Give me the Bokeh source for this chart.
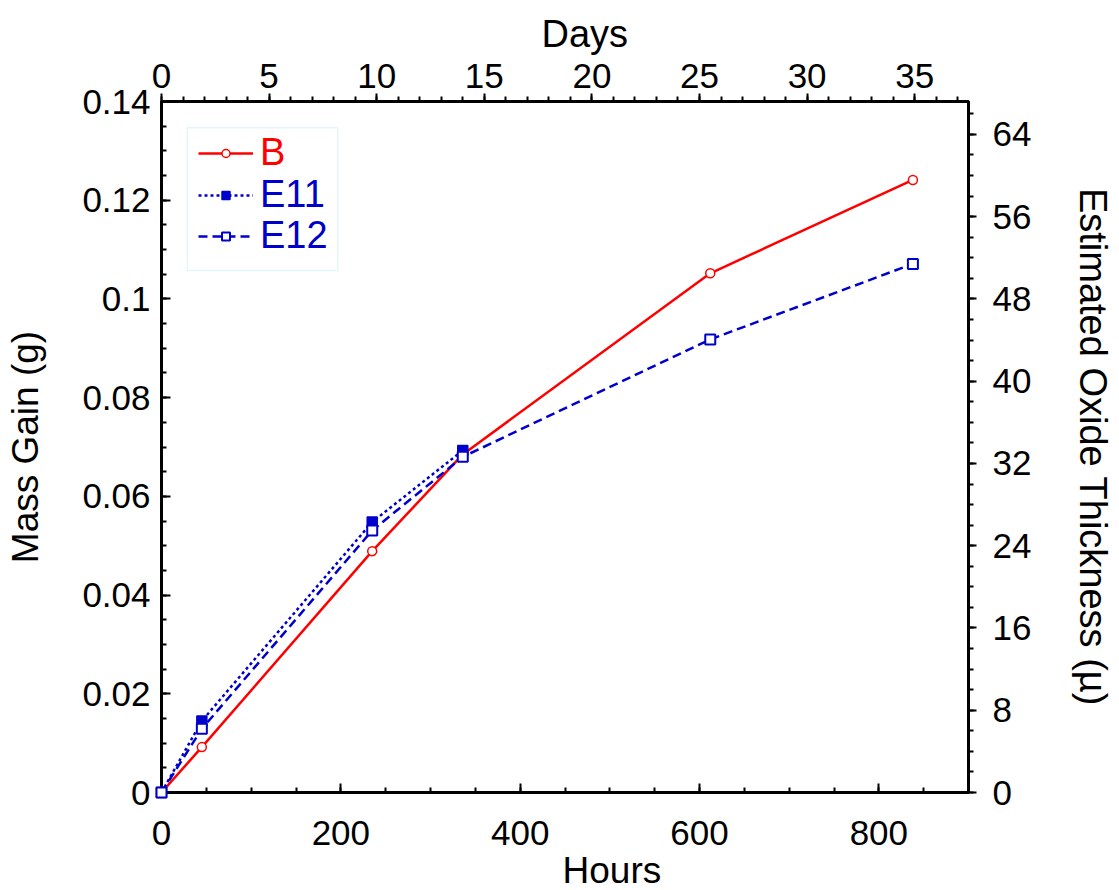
from bokeh.plotting import figure
from bokeh.models import (Range1d, LinearAxis, SingleIntervalTicker, CustomJSTickFormatter,
                          Legend, LegendItem, BoxAnnotation, Title)
from bokeh.embed import file_html
from bokeh.resources import INLINE

# ---- data ----
b_hours = [0, 45, 235, 336, 612, 838]
b_mass = [0, 0.0092, 0.0489, 0.0685, 0.1052, 0.1241]

e11_hours = [0, 45, 235, 336]
e11_mass = [0, 0.0145, 0.0548, 0.0693]

e12_hours = [0, 45, 235, 336, 612, 838]
e12_mass = [0, 0.0129, 0.0531, 0.0680, 0.0918, 0.1071]

series_names = ["B", "E11", "E12"]

hours_range = (0, 900)
days_range = (0, 37.5)
mass_range = (0, 0.14)
thick_range = (0, 67.2)

FONT = "Liberation Sans"
RED = "#ff0000"
BLUE = "#0000cc"

p = figure(width=1119, height=890,
           x_range=Range1d(*hours_range), y_range=Range1d(*mass_range),
           output_backend="svg", toolbar_location=None,
           x_axis_location=None, y_axis_location=None,
           min_border_left=161, min_border_right=151,
           min_border_top=101, min_border_bottom=97)
p.grid.visible = False
p.outline_line_color = "black"
p.outline_line_width = 3
p.background_fill_color = "white"
p.border_fill_color = "white"

p.extra_x_ranges = {"days": Range1d(*days_range)}
p.extra_y_ranges = {"thick": Range1d(*thick_range)}


def style_axis(ax, tick_in, tick_out, label_size="35px", title_size="37px"):
    ax.axis_line_width = 3
    ax.axis_line_color = "black"
    ax.major_tick_in = tick_in[0]
    ax.minor_tick_in = tick_in[1]
    ax.major_tick_out = tick_out[0]
    ax.minor_tick_out = tick_out[1]
    ax.major_tick_line_width = 2
    ax.minor_tick_line_width = 2
    ax.major_tick_line_color = "black"
    ax.minor_tick_line_color = "black"
    ax.major_label_text_font = FONT
    ax.major_label_text_font_size = label_size
    ax.major_label_text_color = "black"
    ax.axis_label_text_font = FONT
    ax.axis_label_text_font_size = title_size
    ax.axis_label_text_font_style = "normal"
    ax.axis_label_text_color = "black"


bottom = LinearAxis(ticker=SingleIntervalTicker(interval=200, num_minor_ticks=4))
style_axis(bottom, (9, 5), (0, 0))
bottom.major_label_standoff = 28
p.add_layout(bottom, "below")

top = LinearAxis(x_range_name="days",
                 ticker=SingleIntervalTicker(interval=5, num_minor_ticks=5))
style_axis(top, (0, 0), (8, 5))
top.major_label_standoff = 6
p.add_layout(top, "above")

left = LinearAxis(ticker=SingleIntervalTicker(interval=0.02, num_minor_ticks=4),
                  formatter=CustomJSTickFormatter(
                      code="return tick.toFixed(3).replace(/0+$/, '').replace(/\\.$/, '');"),
                  axis_label="Mass Gain (g)")
style_axis(left, (9, 5), (0, 0), title_size="37px")
left.major_label_standoff = 11
left.axis_label_standoff = 33
p.add_layout(left, "left")

right = LinearAxis(y_range_name="thick",
                   ticker=SingleIntervalTicker(interval=8, num_minor_ticks=4),
                   axis_label="Estimated Oxide Thickness (µ)")
style_axis(right, (0, 0), (8, 5), title_size="38px")
right.major_label_standoff = 16
right.axis_label_standoff = 38
p.add_layout(right, "right")

# titles of the horizontal axes, set off-centre as in the original
p.add_layout(Title(text="Days", align="left", offset=380, standoff=12,
                   text_font=FONT, text_font_size="38px", text_font_style="normal",
                   text_color="black"), "above")
p.add_layout(Title(text="Hours", align="left", offset=401, standoff=0,
                   text_font=FONT, text_font_size="37px", text_font_style="normal",
                   text_color="black"), "below")

# ---- series ----
b_line = p.line(b_hours, b_mass, line_color=RED, line_width=2.5)
b_pts = p.scatter(b_hours, b_mass, marker="circle", size=9, fill_color="white",
                  line_color=RED, line_width=1.5, level="overlay")

e11_line = p.line(e11_hours, e11_mass, line_color=BLUE, line_width=2.5, line_dash="3 3")
e11_pts = p.scatter(e11_hours, e11_mass, marker="square", size=10, fill_color=BLUE,
                    line_color=BLUE, line_width=1.5, level="overlay")

e12_line = p.line(e12_hours, e12_mass, line_color=BLUE, line_width=2.5, line_dash="9 5")
e12_pts = p.scatter(e12_hours, e12_mass, marker="square", size=10, fill_color="white",
                    line_color=BLUE, line_width=2, level="overlay")

# ---- legend (one per entry so each label has its series colour) ----
box = BoxAnnotation(left=186.7, right=337.3, top=127.3, bottom=270,
                    left_units="canvas", right_units="canvas",
                    top_units="canvas", bottom_units="canvas",
                    fill_alpha=0, line_color="#a0e4ec", line_width=1.5)
p.add_layout(box)

legend_rows = [
    (series_names[0], [b_line, b_pts], RED, 618),
    (series_names[1], [e11_line, e11_pts], BLUE, 576),
    (series_names[2], [e12_line, e12_pts], BLUE, 535),
]
for name, rends, col, yb in legend_rows:
    leg = Legend(items=[LegendItem(label=name, renderers=rends)], location=(37, yb),
                 label_text_color=col, label_text_font=FONT, label_text_font_size="38px",
                 glyph_width=55, glyph_height=20, label_standoff=7, padding=0, margin=0,
                 spacing=0, border_line_color=None, background_fill_alpha=0,
                 label_height=20)
    p.add_layout(leg)

open("out.html", "w").write(file_html(p, INLINE))
